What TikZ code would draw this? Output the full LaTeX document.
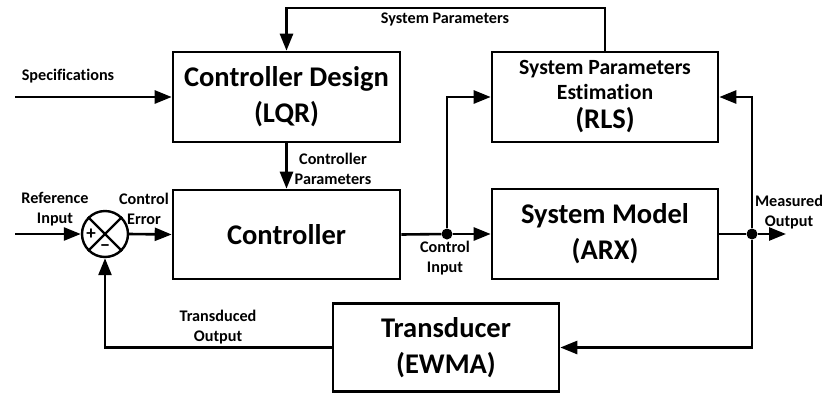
\documentclass[tikz,border=0pt]{standalone}
\usepackage{fontspec}
\setmainfont{Carlito}[Ligatures=NoCommon]
\usetikzlibrary{arrows.meta,calc}
\tikzset{
  blk/.style={draw, line width=2.6pt, align=center, inner sep=0pt, font=\bfseries\fontsize{28.5}{36}\selectfont},
  conn/.style={line width=2.6pt},
  arr/.style={line width=2.6pt, -{Triangle[length=17pt,width=13pt]}},
  lbl/.style={align=center, inner sep=0pt, font=\bfseries\fontsize{16.2}{19.5}\selectfont},
  dotn/.style={circle, fill=black, inner sep=0pt, minimum size=11pt},
  sgn/.style={font=\bfseries\fontsize{19}{19}\selectfont, inner sep=0pt}
}
\begin{document}
\begin{tikzpicture}[x=1pt,y=-1pt]
\useasboundingbox (0,0) rectangle (824,394);
% blocks
\node[blk, minimum width=227pt, minimum height=90pt] (cd) at (286.5,97) {Controller Design\\(LQR)};
\node[blk, minimum width=226pt, minimum height=90pt, font=\bfseries\fontsize{21.7}{25}\selectfont] (spe) at (605,97) {System Parameters\\Estimation\\[4pt]{\fontsize{28.5}{25}\selectfont (RLS)}};
\node[blk, minimum width=227pt, minimum height=89pt] (ctrl) at (286.5,234.5) {Controller};
\node[blk, minimum width=226pt, minimum height=90pt] (sm) at (605,234) {System Model\\(ARX)};
\node[blk, minimum width=226pt, minimum height=88pt] (tr) at (446,347.5) {Transducer\\(EWMA)};
% summing junction
\node[draw, circle, line width=2.4pt, minimum size=46pt, inner sep=0pt] (sum) at (105,234) {};
\draw[line width=2.2pt] (sum.north west) -- (sum.south east) (sum.north east) -- (sum.south west);
\node[sgn] (plus) at (91,234.5) {+};
\node[sgn] (minus) at (105,248) {\textminus};
% junction points
\node[dotn] (ci) at (447,234) {};
\node[dotn] (mo) at (752,234) {};
\coordinate (inref) at (15,234);
\coordinate (inspec) at (15,97);
\coordinate (out) at (786,234);
\coordinate (topl) at (605,8);
% connectors
\draw[arr] (inref) -- (sum.west);
\draw[arr] (sum.east) -- (ctrl.west);
\draw[conn] (ctrl.east) -- (ci);
\draw[arr] (ci) -- (sm.west);
\draw[arr] (ci) |- (spe.west);
\draw[conn] (sm.east) -- (mo);
\draw[arr] (mo) -- (out);
\draw[arr] (mo) |- (spe.east);
\draw[arr] (mo) |- (tr.east);
\draw[arr] (tr.west) -| (sum.south);
\draw[arr] (spe.north) -- (topl) -| (cd.north);
\draw[arr] (inspec) -- (cd.west);
\draw[arr] (cd.south) -- (ctrl.north);
% labels
\node[lbl] (l1) at (445,19) {System Parameters};
\node[lbl] (l2) at (68,76) {Specifications};
\node[lbl] (l3) at (55,209) {Reference\\Input};
\node[lbl] (l4) at (144,209) {Control\\Error};
\node[lbl] (l5) at (445,258) {Control\\Input};
\node[lbl] (l6) at (789,212) {Measured\\Output};
\node[lbl] (l7) at (333,169) {Controller\\Parameters};
\node[lbl] (l8) at (218,327) {Transduced\\Output};
\end{tikzpicture}
\end{document}
